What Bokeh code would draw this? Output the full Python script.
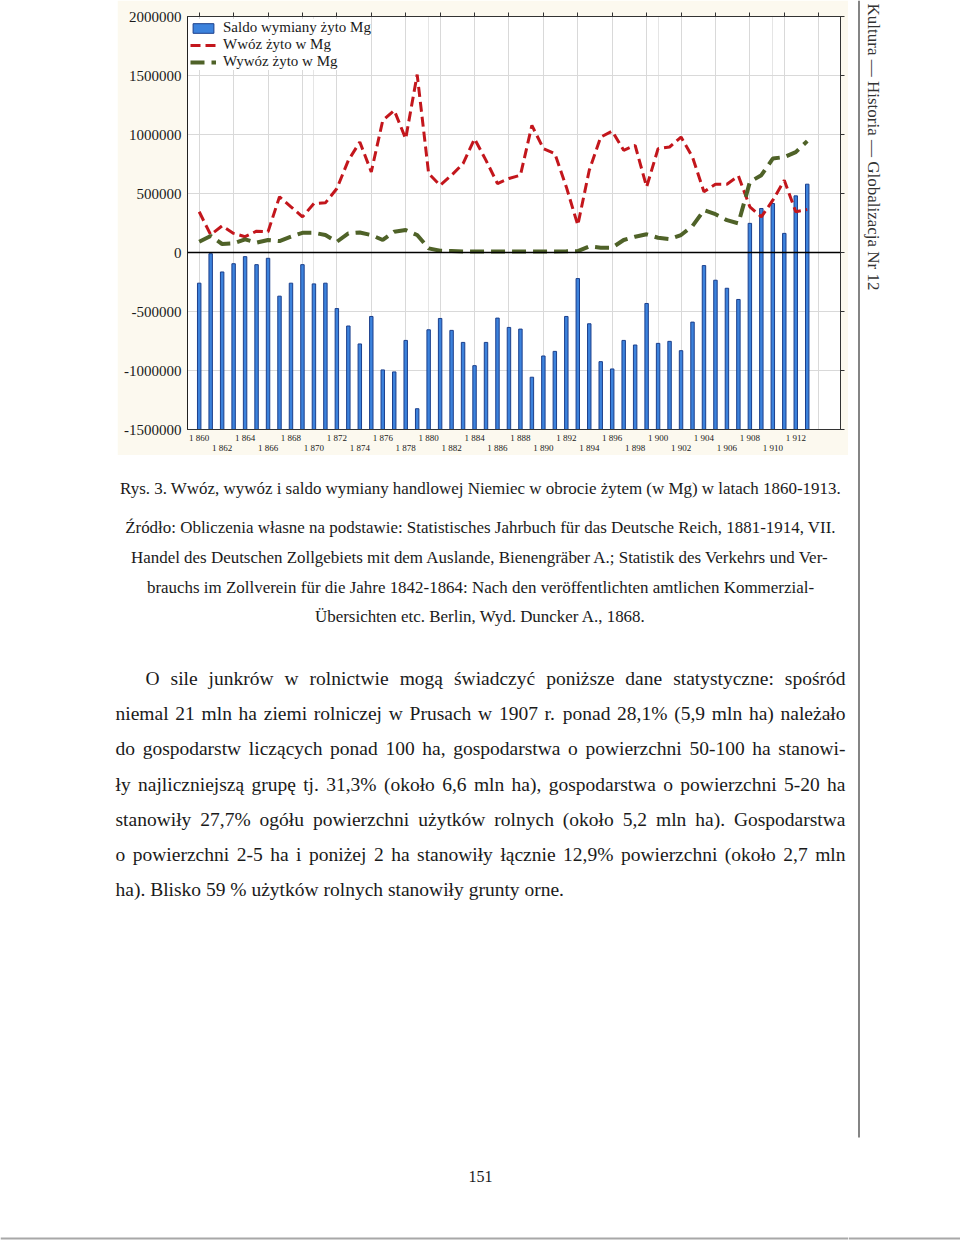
import math
from bokeh.plotting import figure
from bokeh.models import (Range1d, LinearAxis, FixedTicker, Grid, Span, NumeralTickFormatter,
                          CustomJSTickFormatter, Spacer, ColumnDataSource)
from bokeh.layouts import row, column
from bokeh.core.properties import value
from bokeh.embed import file_html
from bokeh.resources import INLINE

# ---------------- data ----------------
years = list(range(1860, 1914))
saldo = [-260000, -10000, -165000, -95000, -35000, -103000, -49000, -370000, -260000, -103000,
         -266000, -260000, -475000, -623000, -775000, -542000, -995000, -1012000, -745000, -1324000,
         -655000, -559000, -660000, -762000, -959000, -762000, -556000, -635000, -649000, -1057000,
         -877000, -838000, -542000, -221000, -604000, -925000, -987000, -745000, -784000, -432000,
         -770000, -753000, -832000, -590000, -111000, -235000, -303000, -398000, 247000, 373000,
         415000, 162000, 480000, 579000]
wwoz = [345000, 150000, 226000, 162000, 134000, 181000, 176000, 472000, 387000, 302000,
        415000, 421000, 542000, 781000, 936000, 683000, 1119000, 1204000, 964000, 1508000,
        669000, 570000, 655000, 753000, 964000, 781000, 584000, 627000, 655000, 1077000,
        880000, 838000, 556000, 232000, 697000, 978000, 1029000, 866000, 908000, 556000,
        880000, 894000, 978000, 809000, 514000, 579000, 579000, 649000, 387000, 302000,
        443000, 612000, 345000, 365000]
wywoz = [91000, 140000, 72000, 78000, 111000, 83000, 106000, 97000, 134000, 167000,
         167000, 148000, 91000, 162000, 170000, 148000, 106000, 176000, 190000, 148000,
         35000, 15000, 12000, 8000, 9000, 8000, 9000, 9000, 8000, 9000,
         9000, 9000, 10000, 12000, 52000, 41000, 41000, 106000, 134000, 154000,
         125000, 114000, 148000, 224000, 359000, 325000, 274000, 247000, 598000, 655000,
         796000, 809000, 851000, 944000]
label_years_top = list(range(1860, 1913, 4))
label_years_bottom = list(range(1862, 1911, 4))
grid_years = list(range(1860, 1915, 3))
y_ticks = list(range(-1500000, 2000001, 500000))

series_names = ["Saldo wymiany żyto Mg", "Wwóz żyto w Mg", "Wywóz żyto w Mg"]

header = "Kultura — Historia — Globalizacja Nr 12"
caption_lines = [
    "Rys. 3. Wwóz, wywóz i saldo wymiany handlowej Niemiec w obrocie żytem (w Mg) w latach 1860-1913.",
    "Źródło: Obliczenia własne na podstawie: Statistisches Jahrbuch für das Deutsche Reich, 1881-1914, VII.",
    "Handel des Deutschen Zollgebiets mit dem Auslande, Bienengräber A.; Statistik des Verkehrs und Ver-",
    "brauchs im Zollverein für die Jahre 1842-1864: Nach den veröffentlichten amtlichen Kommerzial-",
    "Übersichten etc. Berlin, Wyd. Duncker A., 1868.",
]
body_lines = [
    "O sile junkrów w rolnictwie mogą świadczyć poniższe dane statystyczne: spośród",
    "niemal 21 mln ha ziemi rolniczej w Prusach w 1907 r. ponad 28,1% (5,9 mln ha) należało",
    "do gospodarstw liczących ponad 100 ha, gospodarstwa o powierzchni 50-100 ha stanowi-",
    "ły najliczniejszą grupę tj. 31,3% (około 6,6 mln ha), gospodarstwa o powierzchni 5-20 ha",
    "stanowiły 27,7% ogółu powierzchni użytków rolnych (około 5,2 mln ha). Gospodarstwa",
    "o powierzchni 2-5 ha i poniżej 2 ha stanowiły łącznie 12,9% powierzchni (około 2,7 mln",
    "ha). Blisko 59 % użytków rolnych stanowiły grunty orne.",
]
page_number = "151"

SERIF = "Liberation Serif"
TXT = "#1a1a1a"

# ---------------- chart ----------------
src = ColumnDataSource(dict(year=years, saldo=saldo, wwoz=wwoz, wywoz=wywoz))

chart = figure(width=731, height=455,
               x_range=Range1d(1858.98, 1915.9), y_range=Range1d(-1500000, 2000000),
               output_backend="svg", toolbar_location=None,
               x_axis_location=None, y_axis_location="left",
               min_border_left=70, min_border_right=8, min_border_top=16, min_border_bottom=26,
               background_fill_color="white", border_fill_color="#fcf9ef",
               outline_line_color="#333333")

yax = chart.yaxis[0]
yax.ticker = FixedTicker(ticks=y_ticks)
yax.formatter = NumeralTickFormatter(format="0")
yax.major_tick_out = 0
yax.major_tick_in = 0
yax.minor_tick_line_color = None
yax.axis_line_color = "#222222"
yax.major_label_text_font = SERIF
yax.major_label_text_font_size = "15px"
yax.major_label_text_color = TXT
yax.major_label_standoff = 6
chart.ygrid[0].ticker = FixedTicker(ticks=y_ticks)
chart.ygrid[0].grid_line_color = "#d9d9d9"

chart.add_layout(Grid(dimension=0, ticker=FixedTicker(ticks=grid_years),
                      grid_line_color="#d9d9d9"))

year_fmt = CustomJSTickFormatter(code="var s = String(Math.round(tick)); return s.slice(0,1) + ' ' + s.slice(1);")
axA = LinearAxis(ticker=FixedTicker(ticks=label_years_top), formatter=year_fmt,
                 major_tick_out=0, major_tick_in=0, major_tick_line_color=None,
                 minor_tick_line_color=None, axis_line_color="#333333",
                 major_label_standoff=3, major_label_text_font=SERIF,
                 major_label_text_font_size="9px", major_label_text_color=TXT)
chart.add_layout(axA, "below")
year_fmt2 = CustomJSTickFormatter(code="var s = String(Math.round(tick)); return s.slice(0,1) + ' ' + s.slice(1);")
axB = LinearAxis(ticker=FixedTicker(ticks=label_years_bottom), formatter=year_fmt2,
                 major_tick_out=0, major_tick_in=0, major_tick_line_color=None,
                 minor_tick_line_color=None, axis_line_color=None,
                 major_label_standoff=-3, major_label_text_font=SERIF,
                 major_label_text_font_size="9px", major_label_text_color=TXT)
chart.add_layout(axB, "below")

blank = CustomJSTickFormatter(code="return '';")
axTop = LinearAxis(ticker=FixedTicker(ticks=grid_years), formatter=blank,
                   major_tick_out=4, major_tick_in=0, major_tick_line_color="#333333",
                   minor_tick_line_color=None, axis_line_color="#333333",
                   major_label_standoff=0, major_label_text_font_size="0px")
chart.add_layout(axTop, "above")
blank2 = CustomJSTickFormatter(code="return '';")
axRight = LinearAxis(ticker=FixedTicker(ticks=y_ticks), formatter=blank2,
                     major_tick_out=4, major_tick_in=0, major_tick_line_color="#333333",
                     minor_tick_line_color=None, axis_line_color="#333333",
                     major_label_standoff=0, major_label_text_font_size="0px")
chart.add_layout(axRight, "right")

chart.vbar(x="year", bottom=-1500000, top="saldo", width=0.3, source=src,
           fill_color="#3c82dc", line_color="#1b3f8c", line_width=1,
           legend_label=series_names[0])
chart.line(x="year", y="wwoz", source=src, line_color="#c3161c", line_width=3,
           line_dash="10 5", legend_label=series_names[1])
chart.line(x="year", y="wywoz", source=src, line_color="#4f6228", line_width=4,
           line_dash="14 7", legend_label=series_names[2])

chart.add_layout(Span(location=0, dimension="width", line_color="black", line_width=1.5))

lg = chart.legend[0]
lg.location = "top_left"
lg.margin = 3
lg.padding = 4
lg.spacing = 0
lg.label_height = 13
lg.glyph_height = 12
lg.glyph_width = 26
lg.label_standoff = 7
lg.label_text_font = SERIF
lg.label_text_font_size = "15px"
lg.label_text_line_height = 1.0
lg.label_text_color = TXT
lg.border_line_color = None
lg.background_fill_alpha = 1.0

# ---------------- text metrics (Times-compatible) ----------------
W = {' ': 250, '!': 333, '%': 833, '(': 333, ')': 333, ',': 250, '-': 333, '.': 250,
     '/': 278, ':': 278, ';': 278, '—': 1000}
for d in "0123456789":
    W[d] = 500
W.update(dict(A=722, B=667, C=667, D=722, E=611, F=556, G=722, H=722, I=333, J=389, K=722,
              L=611, M=889, N=722, O=722, P=556, Q=722, R=667, S=556, T=611, U=722, V=722,
              X=722, Y=722, Z=611))
W['W'] = 944
W.update(dict(a=444, b=500, c=444, d=500, e=444, f=333, g=500, h=500, i=278, j=278, k=500,
              l=278, m=778, n=500, o=500, p=500, q=500, r=333, s=389, t=278, u=500, v=500,
              w=722, x=500, y=500, z=444))
acc = {'ó': 'o', 'ż': 'z', 'ź': 'z', 'ą': 'a', 'ę': 'e', 'ś': 's', 'ć': 'c', 'ł': 'l',
       'ń': 'n', 'ü': 'u', 'ö': 'o', 'ä': 'a', 'Ü': 'U', 'Ź': 'Z'}


def em(s):
    return sum(W.get(acc.get(c, c), 500) for c in s) / 1000.0


# ---------------- text page (left part, below chart) ----------------
txt = figure(width=848, height=786, x_range=Range1d(0, 848), y_range=Range1d(1241, 455),
             output_backend="svg", toolbar_location=None,
             x_axis_location=None, y_axis_location=None, min_border=0,
             outline_line_color=None, background_fill_color="white", border_fill_color="white")
txt.grid.visible = False
txt.segment(x0=[0], y0=[1238], x1=[848], y1=[1238], line_color="#a8a8a8", line_width=2)

cap_widths = [712, 716, 706, 672]
cap_fs = sum(w / em(s) for w, s in zip(cap_widths, caption_lines[:4])) / 4.0
cap_fs = max(13.0, min(17.5, cap_fs))
cap_mid = [488, 527, 557, 587, 616]
txt.text(x=[480] * len(caption_lines), y=cap_mid, text=caption_lines,
         text_align="center", text_baseline="middle",
         text_font=value(SERIF), text_font_size=value("%.2fpx" % cap_fs), text_color=TXT)

x_right = 845
starts = [145] + [115] * (len(body_lines) - 1)
fits = [(x_right - starts[i]) / em(body_lines[i]) for i in range(len(body_lines) - 1)]
body_fs = min(19.5, min(fits) * 0.985)
bx, by, bt = [], [], []
for i, line in enumerate(body_lines):
    mid = 678 + 35.2 * i
    words = line.split(" ")
    wpx = [em(w) * body_fs for w in words]
    if i < len(body_lines) - 1:
        gap = (x_right - starts[i] - sum(wpx)) / (len(words) - 1)
    else:
        gap = 0.25 * body_fs
    xc = starts[i]
    for w, ww in zip(words, wpx):
        bx.append(xc)
        by.append(mid)
        bt.append(w)
        xc += ww + gap
txt.text(x=bx, y=by, text=bt, text_align="left", text_baseline="middle",
         text_font=value(SERIF), text_font_size=value("%.2fpx" % body_fs), text_color=TXT)

txt.text(x=[480], y=[1176], text=[page_number], text_align="center", text_baseline="middle",
         text_font=value(SERIF), text_font_size=value("16px"), text_color=TXT)

# ---------------- right margin strip (full height) ----------------
side = figure(width=112, height=1241, x_range=Range1d(848, 960), y_range=Range1d(1241, 0),
              output_backend="svg", toolbar_location=None,
              x_axis_location=None, y_axis_location=None, min_border=0,
              outline_line_color=None, background_fill_color="white", border_fill_color="white")
side.grid.visible = False
side.segment(x0=[858.5], y0=[0], x1=[858.5], y1=[1137], line_color="#333333", line_width=1.2)
side.segment(x0=[848], y0=[1238], x1=[960], y1=[1238], line_color="#a8a8a8", line_width=2)
side.text(x=[873], y=[3], text=[header], angle=-math.pi / 2,
          text_align="left", text_baseline="middle",
          text_font=value(SERIF), text_font_size=value("17px"), text_color="#333333")

left = column(row(Spacer(width=117, height=455), chart), txt)
layout = row(left, side)

open("out.html", "w").write(file_html(layout, INLINE))
